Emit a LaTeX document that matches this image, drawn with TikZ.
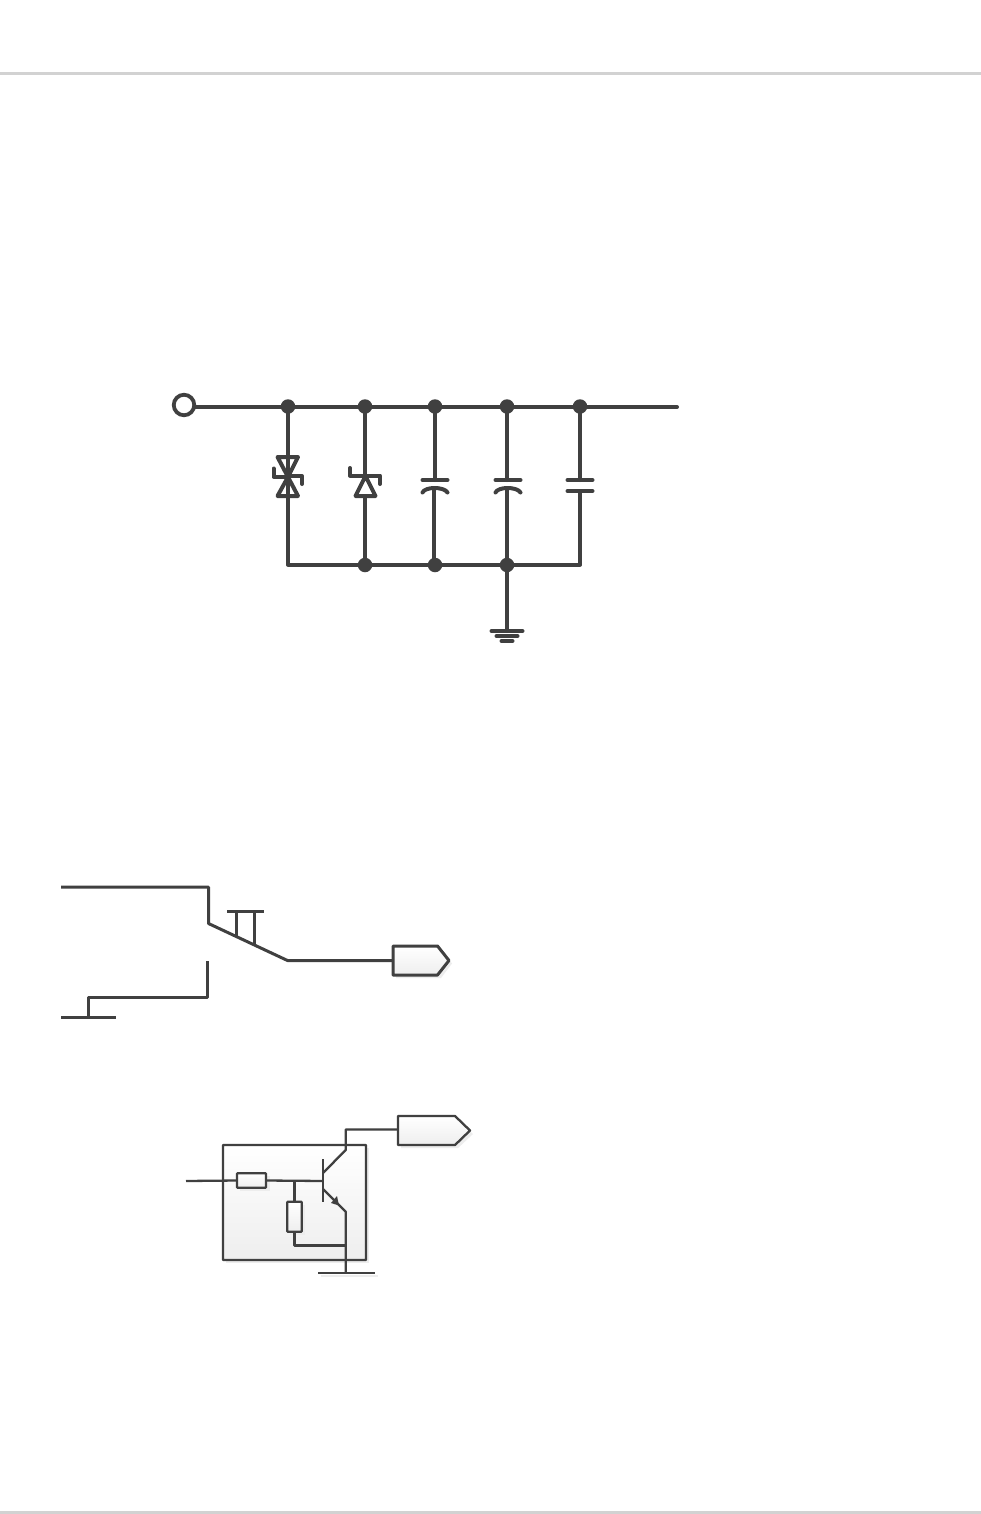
\documentclass[tikz,border=0pt]{standalone}
\definecolor{ink}{HTML}{404040}
\definecolor{rule}{HTML}{D2D2D2}
\definecolor{shadowc}{HTML}{EDEDED}
\definecolor{fillend}{HTML}{EEEEEE}
\tikzset{
  heavy/.style={draw=ink,line width=4pt,line cap=round,line join=round},
  medium/.style={draw=ink,line width=3pt,line cap=round,line join=round},
  thin wire/.style={draw=ink,line width=2.3pt,line join=round},
  dot/.style={circle,fill=ink,inner sep=0pt,minimum size=14.5pt},
  terminal/.style={circle,draw=ink,fill=white,line width=3.8pt,inner sep=0pt,minimum size=20.5pt},
  gradfill/.style={top color=white,bottom color=fillend},
  vres/.style={rectangle,rounded corners=0.8pt,draw=ink,line width=2.3pt,top color=white,bottom color=fillend,inner sep=0pt},
  shadowline/.style={draw=shadowc,line width=2pt},
}
\begin{document}
\begin{tikzpicture}[x=1pt,y=-1pt]
\useasboundingbox (0,0) rectangle (981,1514);
\fill[white] (0,0) rectangle (981,1514);
% page rules
\coordinate (ruleAL) at (0,73.5); \coordinate (ruleAR) at (981,73.5);
\coordinate (ruleBL) at (0,1512.5); \coordinate (ruleBR) at (981,1512.5);
\draw[rule,line width=3pt] (ruleAL) -- (ruleAR);
\draw[rule,line width=3pt] (ruleBL) -- (ruleBR);

% ---------- top circuit ----------
\coordinate (busStart) at (194,407);
\coordinate (busEnd) at (677,407);
\coordinate (lowLeft) at (288,564.5);
\coordinate (lowRight) at (580,564.5);
\coordinate (capLowC) at (434,565);
\foreach \n/\x in {ta/288,tb/365,tc/435,td/507,te/580}
  \node[dot] (\n) at (\x,406.5) {};
\foreach \n/\x in {bb/365,bc/435,bd/507}
  \node[dot] (\n) at (\x,565) {};
\draw[heavy] (busStart) -- (busEnd);
\node[terminal] (term) at (184,405) {};
\draw[heavy] (ta.center) -- (lowLeft) -- (lowRight) -- (580,491);
\draw[heavy] (tb.center) -- (bb.center);
% TVS
\draw[heavy,fill=white] (277.5,457) -- (298,457) -- (288,477) -- cycle;
\draw[heavy,fill=white] (277.5,496) -- (298,496) -- (288,477) -- cycle;
\draw[heavy] (273.5,468.5) -- (273.5,476.5) -- (288,476.5);
\draw[heavy] (288,476) -- (302,476) -- (302,484);
\draw[heavy] (288,457) -- (288,496);
% zener
\draw[heavy,fill=white] (355.5,496) -- (375.5,496) -- (365.5,476) -- cycle;
\draw[heavy] (350,468) -- (350,475.5) -- (380,475.5) -- (380,484);
% capacitors
\draw[heavy] (tc.center) -- (435,480);
\draw[heavy] (422.5,480) -- (447.5,480);
\draw[heavy] (422.5,492.5) .. controls (425,486.5) and (444,486.5) .. (447.5,492.5);
\draw[heavy] (434,488) -- (capLowC);
\draw[heavy] (td.center) -- (507,480);
\draw[heavy] (495.5,480) -- (520.5,480);
\draw[heavy] (495.5,492.5) .. controls (498,486.5) and (517,486.5) .. (520.5,492.5);
\draw[heavy] (507,488) -- (bd.center);
\draw[heavy] (te.center) -- (580,480);
\draw[heavy] (567.5,480) -- (592.5,480);
\draw[heavy] (567.5,491) -- (592.5,491);
% ground
\draw[heavy] (bd.center) -- (507,631);
\draw[heavy] (491.5,631) -- (522.5,631);
\draw[heavy] (496.5,636) -- (517.5,636);
\draw[heavy] (501.5,641) -- (512.5,641);

% ---------- switch ----------
\coordinate (swIn) at (61,887);
\coordinate (swCorner) at (208.5,887);
\coordinate (swPivot) at (208.5,923.5);
\coordinate (swEnd) at (287.5,960.5);
\coordinate (tagA) at (393,960.5);
\coordinate (linkA) at (236.5,936);
\coordinate (linkB) at (254.5,944.5);
\fill[shadowc] (396,949) -- (441,949) -- (452,963.5) -- (441,978) -- (396,978) -- cycle;
\draw[medium,gradfill] (393,946) -- (437.5,946) -- (449,960.5) -- (437.5,975) -- (393,975) -- cycle;
\draw[medium,line cap=butt] (swIn) -- (swCorner) -- (swPivot) -- (swEnd) -- (tagA);
\draw[medium,line cap=butt] (227,911) -- (263.5,911);
\draw[medium,line cap=butt] (236.5,911) -- (linkA);
\draw[medium,line cap=butt] (254.5,911) -- (linkB);
\draw[medium,line cap=butt] (207.5,961) -- (207.5,997.5) -- (88.5,997.5) -- (88.5,1017);
\draw[medium,line cap=butt] (61,1017.5) -- (116,1017.5);

% ---------- transistor stage ----------
\fill[shadowc] (225.5,1148) rectangle (369,1263);
\draw[thin wire,rounded corners=0.5pt,gradfill] (223,1145) rectangle (366,1260);
\draw[shadowline] (321,1276) -- (378,1276);
\fill[shadowc] (401,1119) -- (458,1119) -- (473,1134) -- (458,1148) -- (401,1148) -- cycle;
\draw[thin wire,gradfill] (398,1116) -- (455,1116) -- (470,1130.5) -- (455,1145) -- (398,1145) -- cycle;
\fill[shadowc] (240,1176) rectangle (269.5,1191);
\fill[shadowc] (290,1205) rectangle (305,1235);
\node[vres,minimum width=29pt,minimum height=14.5pt] (r1) at (251.5,1180.5) {};
\node[vres,minimum width=14.5pt,minimum height=30pt] (r2) at (294.5,1216.8) {};
\coordinate (inW) at (186,1181);
\coordinate (baseJ) at (294.5,1181);
\coordinate (baseB) at (323,1181);
\coordinate (collB) at (323,1173);
\coordinate (collK) at (345.7,1150);
\coordinate (collT) at (345.7,1129.5);
\coordinate (emB) at (323,1189);
\coordinate (emK) at (345.7,1211.7);
\coordinate (gndT) at (345.7,1273);
\coordinate (r2Low) at (294.5,1245.5);
\coordinate (emJ) at (345.7,1245.5);
\draw[thin wire] (inW) -- (r1.west);
\draw[thin wire] (r1.east) -- (baseB);
\draw[thin wire] (baseJ) -- (r2.north);
\draw[thin wire] (r2.south) -- (r2Low) -- (emJ);
\draw[thin wire] (323,1159) -- (323,1202);
\draw[thin wire] (collB) -- (collK) -- (collT) -- (398,1129.5);
\draw[thin wire] (emB) -- (emK) -- (gndT);
\fill[ink] (339,1205.5) -- (331,1203) -- (337,1196) -- cycle;
\draw[thin wire] (318,1273) -- (375,1273);
\end{tikzpicture}
\end{document}
